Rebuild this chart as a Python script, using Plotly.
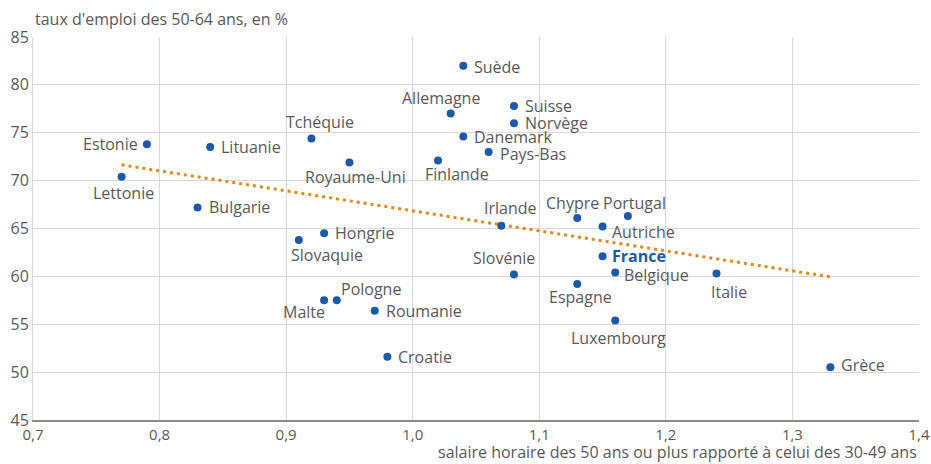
import plotly.graph_objects as go

countries = ["Suède", "Allemagne", "Suisse", "Norvège", "Danemark", "Pays-Bas", "Finlande",
             "Royaume-Uni", "Tchéquie", "Lituanie", "Estonie", "Lettonie", "Bulgarie", "Hongrie",
             "Slovaquie", "Pologne", "Malte", "Roumanie", "Croatie", "Irlande", "Chypre",
             "Portugal", "Autriche", "France", "Slovénie", "Belgique", "Espagne", "Italie",
             "Luxembourg", "Grèce"]
salaire_ratio = [1.04, 1.03, 1.08, 1.08, 1.04, 1.06, 1.02,
                 0.95, 0.92, 0.84, 0.79, 0.77, 0.83, 0.93,
                 0.91, 0.94, 0.93, 0.97, 0.98, 1.07, 1.13,
                 1.17, 1.15, 1.15, 1.08, 1.16, 1.13, 1.24,
                 1.16, 1.33]
taux_emploi = [82.0, 77.0, 77.8, 76.0, 74.6, 73.0, 72.1,
               71.9, 74.4, 73.5, 73.8, 70.4, 67.2, 64.5,
               63.8, 57.5, 57.5, 56.4, 51.6, 65.3, 66.1,
               66.3, 65.2, 62.1, 60.2, 60.4, 59.2, 60.3,
               55.4, 50.5]
trend_x = [0.77, 1.33]
trend_y = [71.65, 59.95]

x_ticks = [0.7, 0.8, 0.9, 1.0, 1.1, 1.2, 1.3, 1.4]
x_tick_labels = ["0,7", "0,8", "0,9", "1,0", "1,1", "1,2", "1,3", "1,4"]
y_ticks = [45, 50, 55, 60, 65, 70, 75, 80, 85]

# label placement (style): anchor, dx, dy (pixels, dy downward)
label_pos = {
    "Suède": ("left", 9, 1), "Allemagne": ("center", -10, -16), "Suisse": ("left", 9, 0),
    "Norvège": ("left", 9, 0), "Danemark": ("left", 9, 0), "Pays-Bas": ("left", 9, 2),
    "Finlande": ("center", 19, 13), "Royaume-Uni": ("center", 6, 15), "Tchéquie": ("center", 9, -16),
    "Lituanie": ("left", 9, 0), "Estonie": ("right", -7, 0), "Lettonie": ("center", 2, 16),
    "Bulgarie": ("left", 9, 0), "Hongrie": ("left", 9, 0), "Slovaquie": ("center", 28, 15),
    "Pologne": ("left", 2, -11), "Malte": ("right", 3, 12), "Roumanie": ("left", 9, 0),
    "Croatie": ("left", 9, 0), "Irlande": ("center", 9, -18), "Chypre": ("center", -5, -15),
    "Portugal": ("center", 7, -13), "Autriche": ("left", 7, 5), "France": ("left", 7, 0),
    "Slovénie": ("center", -10, -16), "Belgique": ("left", 7, 2), "Espagne": ("center", 3, 13),
    "Italie": ("center", 13, 18), "Luxembourg": ("center", 3, 18), "Grèce": ("left", 9, -2),
}

BLUE = "#1c5aa9"
ORANGE = "#e08a1c"
GRAY_TXT = "#595959"
FONT = "Open Sans"

fig = go.Figure()
fig.add_trace(go.Scatter(x=trend_x, y=trend_y, mode="lines",
                         line=dict(color=ORANGE, width=3, dash="3px,4px"),
                         hoverinfo="skip", showlegend=False))
fig.add_trace(go.Scatter(x=salaire_ratio, y=taux_emploi, mode="markers",
                         marker=dict(color=BLUE, size=8),
                         text=countries, showlegend=False))

annotations = []
for name, xv, yv in zip(countries, salaire_ratio, taux_emploi):
    anchor, dx, dy = label_pos[name]
    is_fr = name == "France"
    annotations.append(dict(
        x=xv, y=yv, xref="x", yref="y", text=f"<b>{name}</b>" if is_fr else name,
        showarrow=False, xanchor=anchor, yanchor="middle", xshift=dx, yshift=-dy,
        font=dict(family=FONT, size=16, color=BLUE if is_fr else GRAY_TXT)))

annotations.append(dict(x=0, y=1, xref="paper", yref="paper", xanchor="left", yanchor="middle",
                        yshift=18, text="taux d'emploi des 50-64 ans, en %", showarrow=False,
                        font=dict(family=FONT, size=16, color=GRAY_TXT)))
annotations.append(dict(x=1, y=0, xref="paper", yref="paper", xanchor="right", yanchor="middle",
                        yshift=-32, text="salaire horaire des 50 ans ou plus rapporté à celui des 30-49 ans",
                        showarrow=False, font=dict(family=FONT, size=16, color=GRAY_TXT)))

fig.update_layout(
    width=931, height=464,
    margin=dict(l=33, r=12, t=37, b=44, autoexpand=False),
    plot_bgcolor="white", paper_bgcolor="white",
    font=dict(family=FONT, size=16, color=GRAY_TXT),
    annotations=annotations,
    xaxis=dict(range=[0.7, 1.4], tickvals=x_ticks, ticktext=x_tick_labels,
               showgrid=True, gridcolor="#d9d9d9", gridwidth=1, zeroline=False,
               showline=True, linecolor="#8c8c8c", linewidth=2, ticks="", automargin=False,
               ticklabeloverflow="allow",
               tickfont=dict(family=FONT, size=15, color=GRAY_TXT)),
    yaxis=dict(range=[45, 85], tickvals=y_ticks,
               showgrid=True, gridcolor="#d9d9d9", gridwidth=1, zeroline=False,
               showline=True, linecolor="#d9d9d9", linewidth=1, ticks="", automargin=False,
               ticklabeloverflow="allow",
               tickfont=dict(family=FONT, size=16, color=GRAY_TXT)),
)

# remove the default page margin so the figure sits at the window's top-left corner
fig.write_html("out.html", config={"displayModeBar": False},
               post_script="document.body.style.margin='0';document.body.style.overflow='hidden';")
